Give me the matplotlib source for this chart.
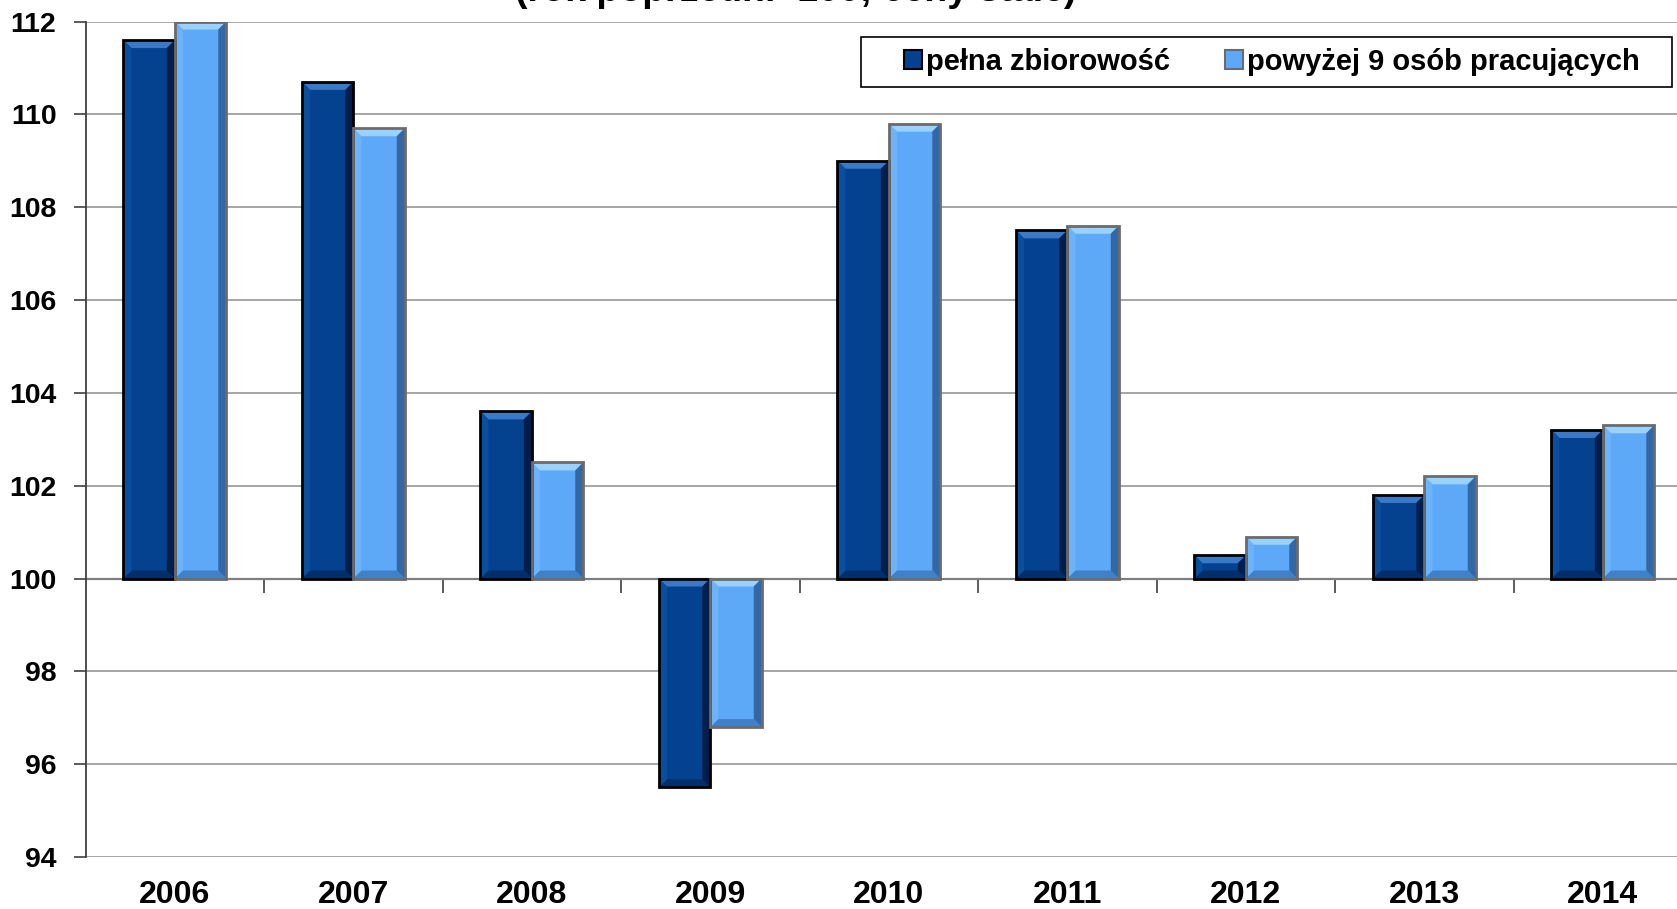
import matplotlib

matplotlib.use("Agg")
import matplotlib.pyplot as plt
from matplotlib.patches import Polygon, Rectangle
from matplotlib.transforms import blended_transform_factory
import numpy as np

plt.rcParams["font.family"] = ["Liberation Sans", "DejaVu Sans"]
plt.rcParams["font.weight"] = "bold"

years = ["2006", "2007", "2008", "2009", "2010", "2011", "2012", "2013", "2014"]
full_pop = [111.6, 110.7, 103.6, 95.5, 109.0, 107.5, 100.5, 101.8, 103.2]
above_9 = [112.0, 109.7, 102.5, 96.8, 109.8, 107.6, 100.9, 102.2, 103.3]
series_names = ["pełna zbiorowość", "powyżej 9 osób pracujących"]
title = "(rok poprzedni=100; ceny stałe)"

BASE = 100
# face, top bevel, bottom bevel, left bevel, right bevel, edge
DARK = ("#04418f", "#3a78c8", "#022f6a", "#0a4e9e", "#011f4a", "#000000")
LIGHT = ("#5ea9f7", "#9ad2ff", "#3f80c6", "#6db3fa", "#3467a6", "#6b6b6b")

W, H = 1677, 909
fig = plt.figure(figsize=(W / 100, H / 100), dpi=100)
# axes extends slightly past the right edge, like the cropped source chart
ax_left, ax_bottom = 85.6 / W, 1 - 857 / H
ax_w, ax_h = 9 * 178.5 / W, (857 - 21.5) / H
ax = fig.add_axes([ax_left, ax_bottom, ax_w, ax_h])
ax.set_xlim(-0.5, len(years) - 0.5)
ax.set_ylim(94, 112)

px_x = ax_w * W / len(years)        # pixels per category
px_y = ax_h * H / (112 - 94)        # pixels per value unit
bx, by = 8 / px_x, 8 / px_y          # bevel size in data units

bar_w = 0.288


def bevel_bar(x0, val, colors):
    face, top, bot, lft, rgt, edge = colors
    lo, hi = min(BASE, val), max(BASE, val)
    x1 = x0 + bar_w
    b = min(by, (hi - lo) / 2)
    ax.add_patch(Rectangle((x0, lo), bar_w, hi - lo, facecolor=face,
                           edgecolor="none", zorder=3))
    polys = [
        ([(x0, hi), (x1, hi), (x1 - bx, hi - b), (x0 + bx, hi - b)], top),
        ([(x0, lo), (x1, lo), (x1 - bx, lo + b), (x0 + bx, lo + b)], bot),
        ([(x0, lo), (x0 + bx, lo + b), (x0 + bx, hi - b), (x0, hi)], lft),
        ([(x1, lo), (x1 - bx, lo + b), (x1 - bx, hi - b), (x1, hi)], rgt),
    ]
    for pts, c in polys:
        ax.add_patch(Polygon(pts, closed=True, facecolor=c, edgecolor="none",
                             zorder=3))
    ax.add_patch(Rectangle((x0, lo), bar_w, hi - lo, facecolor="none",
                           edgecolor=edge, lw=2.0, zorder=4))


x = np.arange(len(years))
for i in range(len(years)):
    bevel_bar(x[i] - bar_w, full_pop[i], DARK)
    bevel_bar(x[i], above_9[i], LIGHT)

# grid and axes styling
ax.set_yticks(np.arange(94, 113, 2))
ax.yaxis.grid(True, color="#a6a6a6", lw=1.4, zorder=0)
ax.set_axisbelow(True)
ax.tick_params(axis="y", length=9, width=1.2, color="#404040", pad=12,
               labelsize=20.5)
for lab in ax.get_yticklabels():
    lab.set_fontweight("bold")
for s in ("top", "right"):
    ax.spines[s].set_visible(False)
ax.spines["left"].set_color("#404040")
ax.spines["left"].set_linewidth(1.3)
ax.spines["bottom"].set_position(("data", BASE))
ax.spines["bottom"].set_color("#7f7f7f")
ax.spines["bottom"].set_linewidth(1.6)
ax.spines["bottom"].set_zorder(2)
ax.set_xticks(np.arange(len(years) - 1) + 0.5)
ax.tick_params(axis="x", length=10, width=1.2, color="#404040",
               labelbottom=False)

trans = blended_transform_factory(ax.transData, ax.transAxes)
for xi, yr in zip(x, years):
    ax.text(xi, -0.046, yr, transform=trans, ha="center", va="center",
            fontsize=23, fontweight="bold")

fig.text(796 / W, 1 - 1 / H, title, ha="center", va="baseline",
         fontsize=27, fontweight="bold")

# legend frame drawn separately: the source box has wide side padding
fig.patches.append(Rectangle((861 / W, 1 - 87 / H), (1672 - 861) / W, 50 / H,
                             transform=fig.transFigure, facecolor="white",
                             edgecolor="black", lw=1.2, zorder=5))
handles = [Rectangle((0, 0), 1, 1, facecolor=DARK[0], edgecolor="black", lw=1.5),
           Rectangle((0, 0), 1, 1, facecolor=LIGHT[0], edgecolor="#6b6b6b", lw=1.5)]
leg = fig.legend(handles, series_names, loc="center",
                 bbox_to_anchor=(1272 / W, 1 - 62 / H), ncol=2,
                 fontsize=21, frameon=False,
                 handlelength=0.6, handleheight=0.6, handletextpad=0.15,
                 columnspacing=1.9, borderpad=0.3, borderaxespad=0)
leg.set_zorder(6)
for t in leg.get_texts():
    t.set_fontweight("bold")

fig.savefig("out.png", dpi=100)
